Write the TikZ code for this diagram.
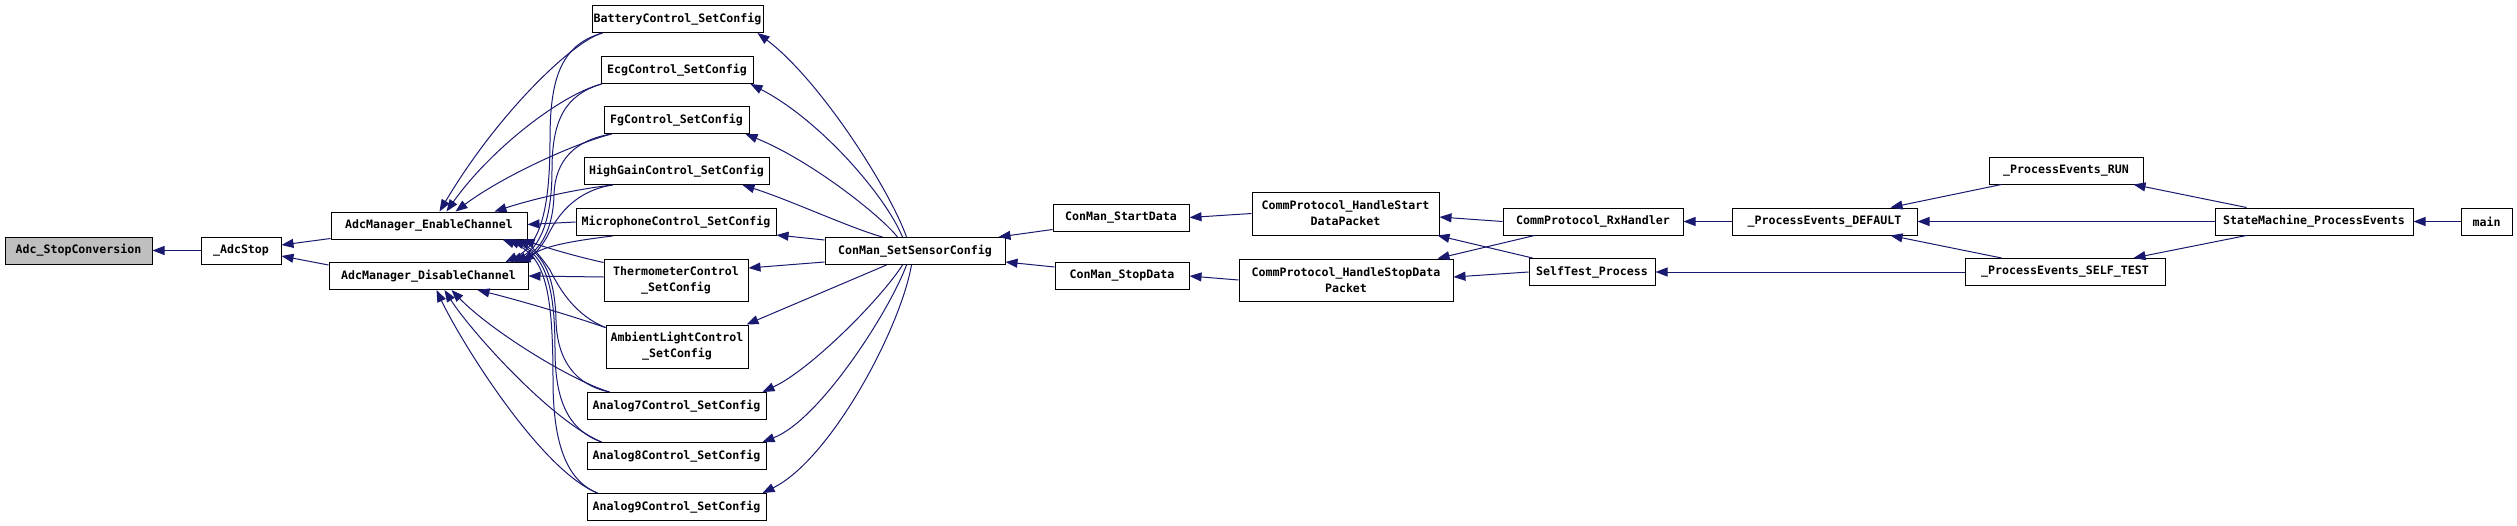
\documentclass[tikz,border=0pt]{standalone}
\usepackage{fontspec}
\setmonofont{DejaVu Sans Mono}
\usetikzlibrary{arrows.meta}
\definecolor{edgecol}{RGB}{25,25,112}
\definecolor{rootfill}{RGB}{191,191,191}
\tikzset{
  fn/.style={draw=black, line width=1pt, fill=white, inner sep=0pt, minimum height=27pt,
    font=\ttfamily\bfseries\fontsize{11.6}{16}\selectfont, align=center},
  fntwo/.style={fn, minimum height=42pt},
  root/.style={fn, fill=rootfill},
  call/.style={draw=edgecol, line width=1pt, -{Triangle[length=12pt,width=9pt]}}
}
\begin{document}
\begin{tikzpicture}[x=1pt,y=-1pt]
\fill[white] (0,0) rectangle (2517,525);
\useasboundingbox (0,0) rectangle (2517,525);

% nodes
\node[root, minimum width=147pt] (stop) at (78.5,250.5) {Adc\_StopConversion};
\node[fn, minimum width=80pt] (adcstop) at (241,250.5) {\_AdcStop};
\node[fn, minimum width=196pt] (en) at (429,225.5) {AdcManager\_EnableChannel};
\node[fn, minimum width=199pt] (dis) at (428.5,276) {AdcManager\_DisableChannel};

\node[fn, minimum width=171pt] (bat) at (677.5,19) {BatteryControl\_SetConfig};
\node[fn, minimum width=152pt] (ecg) at (677,70) {EcgControl\_SetConfig};
\node[fn, minimum width=145pt] (fg) at (676.5,120) {FgControl\_SetConfig};
\node[fn, minimum width=185pt] (hg) at (676.5,171) {HighGainControl\_SetConfig};
\node[fn, minimum width=200pt] (mic) at (676,222) {MicrophoneControl\_SetConfig};
\node[fntwo, minimum width=144pt] (th) at (676,280) {ThermometerControl\\\_SetConfig};
\node[fntwo, minimum width=142pt, minimum height=43pt] (amb) at (677,346.5) {AmbientLightControl\\\_SetConfig};
\node[fn, minimum width=179pt] (a7) at (676.5,406) {Analog7Control\_SetConfig};
\node[fn, minimum width=179pt] (a8) at (676.5,456) {Analog8Control\_SetConfig};
\node[fn, minimum width=179pt] (a9) at (676.5,507) {Analog9Control\_SetConfig};

\node[fn, minimum width=180pt] (sens) at (915,251) {ConMan\_SetSensorConfig};
\node[fn, minimum width=136pt] (sd) at (1121,217.5) {ConMan\_StartData};
\node[fn, minimum width=134pt] (pd) at (1122,276) {ConMan\_StopData};
\node[fntwo, minimum width=187pt, minimum height=43pt] (hs) at (1345.5,213.5) {CommProtocol\_HandleStart\\DataPacket};
\node[fntwo, minimum width=214pt] (hp) at (1346,280) {CommProtocol\_HandleStopData\\Packet};
\node[fn, minimum width=180pt] (rx) at (1593,221.5) {CommProtocol\_RxHandler};
\node[fn, minimum width=126pt] (st) at (1592,272) {SelfTest\_Process};
\node[fn, minimum width=185pt] (def) at (1824.5,221.5) {\_ProcessEvents\_DEFAULT};
\node[fn, minimum width=154pt] (run) at (2066,170.5) {\_ProcessEvents\_RUN};
\node[fn, minimum width=200pt] (stpe) at (2065,272) {\_ProcessEvents\_SELF\_TEST};
\node[fn, minimum width=198pt] (sm) at (2314,221.5) {StateMachine\_ProcessEvents};
\node[fn, minimum width=51pt] (main) at (2486.5,221.5) {main};

% left part
\draw[call] (adcstop.west) -- (stop.east);
\draw[call] ([yshift=1pt]en.south west) -- ([yshift=5.5pt]adcstop.east);
\draw[call] ([yshift=-3pt]dis.north west) -- ([yshift=-5.5pt]adcstop.east);

% controls -> EnableChannel
\draw[call] ([xshift=11pt]bat.south west) .. controls (575,40) and (500,110) .. ([xshift=109pt]en.north west);
\draw[call] ([xshift=1pt]ecg.south west) .. controls (560,95) and (490,150) .. ([xshift=116pt]en.north west);
\draw[call] ([xshift=8pt]fg.south west) .. controls (570,145) and (500,178) .. ([xshift=125pt]en.north west);
\draw[call] ([xshift=29pt]hg.south west) .. controls (570,190) and (530,200) .. ([xshift=164pt]en.north west);
\draw[call] (mic.west) -- ([yshift=1pt]en.east);
\draw[call] ([yshift=-4pt]th.north west) .. controls (570,255) and (545,247) .. ([xshift=-5pt]en.south east);
\draw[call] ([yshift=-3pt]amb.north west) .. controls (575,315) and (560,290) .. (550,270) .. controls (540,255) and (530,245) .. ([xshift=-10pt]en.south east);
\draw[call] ([xshift=23pt]a7.north west) .. controls (575,385) and (557,360) .. (556,320) .. controls (555,280) and (545,255) .. ([xshift=-15pt]en.south east);
\draw[call] ([xshift=15pt]a8.north west) .. controls (568,430) and (555,400) .. (555,350) .. controls (555,285) and (545,255) .. ([xshift=-20pt]en.south east);
\draw[call] ([xshift=11pt]a9.north west) .. controls (565,480) and (553,440) .. (553,380) .. controls (553,290) and (545,255) .. ([xshift=-25pt]en.south east);

% controls -> DisableChannel
\draw[call] ([xshift=11pt]bat.south west) .. controls (560,45) and (550,80) .. (550,140) .. controls (550,210) and (540,245) .. ([xshift=-23pt]dis.north east);
\draw[call] ([xshift=1pt]ecg.south west) .. controls (565,95) and (552,120) .. (552,170) .. controls (552,220) and (540,248) .. ([xshift=-18pt]dis.north east);
\draw[call] ([xshift=8pt]fg.south west) .. controls (575,140) and (555,160) .. (554,195) .. controls (553,230) and (540,250) .. ([xshift=-14pt]dis.north east);
\draw[call] ([xshift=29pt]hg.south west) .. controls (580,190) and (560,210) .. (548,235) .. controls (540,250) and (530,258) .. ([xshift=-10pt]dis.north east);
\draw[call] ([xshift=37pt]mic.south west) .. controls (580,240) and (545,245) .. ([xshift=-6pt]dis.north east);
\draw[call] ([yshift=3pt]th.west) -- (dis.east);
\draw[call] ([yshift=-3pt]amb.north west) .. controls (560,312) and (510,298) .. ([xshift=149pt]dis.south west);
\draw[call] ([xshift=23pt]a7.north west) .. controls (570,380) and (490,330) .. ([xshift=123pt]dis.south west);
\draw[call] ([xshift=15pt]a8.north west) .. controls (550,420) and (470,330) .. ([xshift=116pt]dis.south west);
\draw[call] ([xshift=11pt]a9.north west) .. controls (540,470) and (460,340) .. ([xshift=108pt]dis.south west);

% SetSensorConfig -> controls
\draw[call] ([xshift=82pt]sens.north west) .. controls (890,190) and (820,80) .. ([xshift=-6pt]bat.south east);
\draw[call] ([xshift=78pt]sens.north west) .. controls (885,195) and (820,120) .. ([xshift=-3pt]ecg.south east);
\draw[call] ([xshift=73pt]sens.north west) .. controls (880,215) and (810,160) .. ([xshift=-4pt]fg.south east);
\draw[call] ([xshift=58pt]sens.north west) .. controls (850,228) and (790,200) .. ([xshift=-27pt]hg.south east);
\draw[call] ([yshift=-3pt]sens.north west) -- ([yshift=1pt]mic.south east);
\draw[call] ([yshift=3pt]sens.south west) -- ([yshift=12pt]th.east);
\draw[call] ([xshift=62pt]sens.south west) -- ([xshift=-2pt]amb.north east);
\draw[call] ([xshift=78pt]sens.south west) .. controls (880,300) and (810,370) .. ([xshift=-4pt]a7.north east);
\draw[call] ([xshift=82pt]sens.south west) .. controls (890,310) and (820,420) .. ([xshift=-4pt]a8.north east);
\draw[call] ([xshift=87pt]sens.south west) .. controls (900,330) and (830,460) .. ([xshift=-4pt]a9.north east);

% right part
\draw[call] ([yshift=2pt]sd.south west) -- ([xshift=-7pt]sens.north east);
\draw[call] ([yshift=-5pt]pd.north west) -- ([yshift=3pt]sens.south east);
\draw[call] (hs.west) -- (sd.east);
\draw[call] (hp.west) -- (pd.east);
\draw[call] (rx.west) -- ([yshift=-3.5pt]hs.east);
\draw[call] ([xshift=32pt]rx.south west) -- ([xshift=-16pt]hp.north east);
\draw[call] ([xshift=4pt]st.north west) -- ([xshift=-2pt]hs.south east);
\draw[call] (st.west) -- ([yshift=3pt]hp.east);
\draw[call] (def.west) -- (rx.east);
\draw[call] (stpe.west) -- (st.east);
\draw[call] ([xshift=13pt]run.south west) -- ([xshift=-27pt]def.north east);
\draw[call] ([xshift=37pt]stpe.north west) -- ([xshift=-27pt]def.south east);
\draw[call] (sm.west) -- (def.east);
\draw[call] ([xshift=32pt]sm.north west) -- ([xshift=-10pt]run.south east);
\draw[call] ([xshift=32pt]sm.south west) -- ([xshift=-32pt]stpe.north east);
\draw[call] (main.west) -- (sm.east);
\end{tikzpicture}
\end{document}
